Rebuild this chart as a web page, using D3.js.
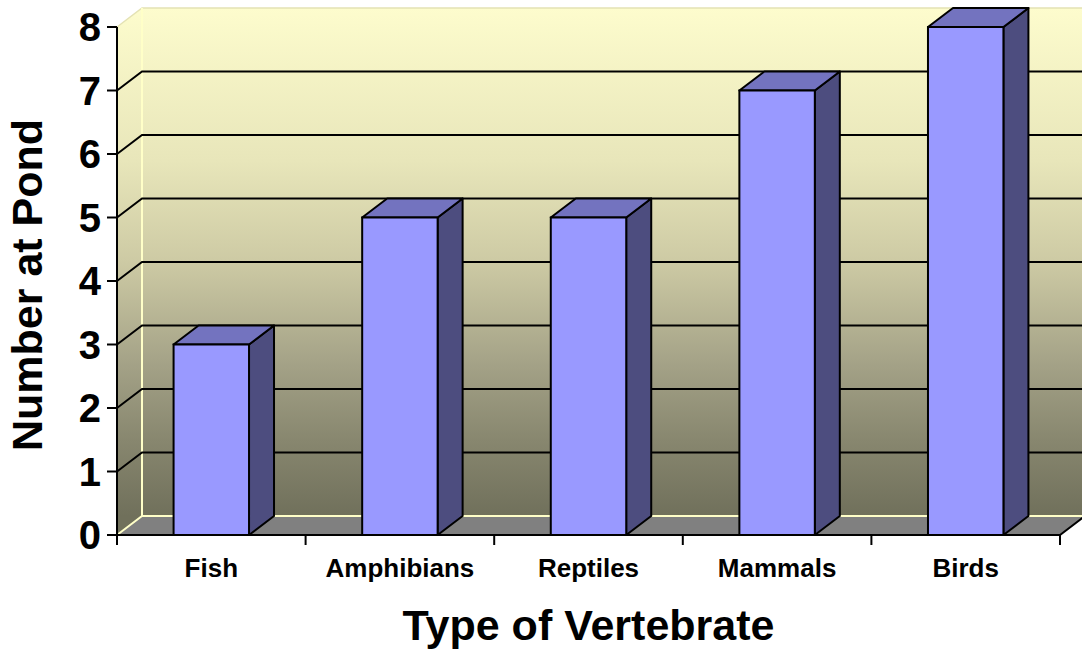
<!DOCTYPE html>
<html>
<head>
<meta charset="utf-8">
<script src="https://cdn.jsdelivr.net/npm/d3@7/dist/d3.min.js"></script>
<style>
  html, body { margin: 0; padding: 0; background: #fff; }
  text { font-family: "Liberation Sans", Arial, sans-serif; font-weight: bold; fill: #000; }
</style>
</head>
<body>
<div id="chart"></div>
<script>
// Vertebrates counted at the pond
const categories = ["Fish", "Amphibians", "Reptiles", "Mammals", "Birds"];
const counts = [3, 5, 5, 7, 8];
const yTicks = [0, 1, 2, 3, 4, 5, 6, 7, 8];

const width = 1082;
const height = 649;

// plot frame (front plane) and 3D depth offset
const plotLeft = 117, plotRight = 1060, plotTop = 27, plotBottom = 535;
const dx = 25, dy = -19;

const svg = d3.select("#chart")
  .append("svg")
  .attr("width", width)
  .attr("height", height);

const defs = svg.append("defs");
const grad = defs.append("linearGradient")
  .attr("id", "wall")
  .attr("gradientUnits", "userSpaceOnUse")
  .attr("x1", 0).attr("y1", plotTop + dy)
  .attr("x2", 0).attr("y2", plotBottom + dy);
[
  [0, "#fdfccd"],
  [0.3, "#e8e6ba"],
  [0.5, "#cdcaa4"],
  [0.7, "#a4a287"],
  [0.85, "#88876f"],
  [1, "#70705b"]
].forEach(([o, c]) => grad.append("stop").attr("offset", o).attr("stop-color", c));

const x = d3.scaleBand()
  .domain(categories)
  .range([plotLeft, plotRight])
  .padding(0);

const y = d3.scaleLinear()
  .domain([0, 8])
  .range([plotBottom, plotTop]);

const barW = x.bandwidth() * 0.4;
const line = d3.line();

// back wall
svg.append("rect")
  .attr("x", plotLeft + dx)
  .attr("y", y(8) + dy)
  .attr("width", plotRight - plotLeft + 10)
  .attr("height", y(0) - y(8))
  .attr("fill", "url(#wall)");

// side wall
svg.append("path")
  .attr("d", line([[plotLeft, y(0)], [plotLeft + dx, y(0) + dy], [plotLeft + dx, y(8) + dy], [plotLeft, y(8)]]) + "Z")
  .attr("fill", "url(#wall)");

// wall edges (pale)
svg.append("path")
  .attr("d", line([[plotLeft, y(8)], [plotLeft + dx, y(8) + dy], [width, y(8) + dy]]))
  .attr("fill", "none")
  .attr("stroke", "#e4e2b4")
  .attr("stroke-width", 1.5);
svg.append("line")
  .attr("x1", plotLeft + dx).attr("x2", plotLeft + dx)
  .attr("y1", y(8) + dy).attr("y2", y(0) + dy)
  .attr("stroke", "#ffffc8")
  .attr("stroke-width", 2);

// floor
svg.append("path")
  .attr("d", line([[plotLeft, y(0)], [plotRight, y(0)], [plotRight + dx, y(0) + dy], [plotLeft + dx, y(0) + dy]]) + "Z")
  .attr("fill", "#808080");
svg.append("path")
  .attr("d", line([[plotLeft, y(0)], [plotLeft + dx, y(0) + dy], [width, y(0) + dy]]))
  .attr("fill", "none")
  .attr("stroke", "#ffffc8")
  .attr("stroke-width", 2);

// gridlines
const grid = svg.append("g");
yTicks.filter(v => v > 0 && v < 8).forEach(v => {
  grid.append("path")
    .attr("d", line([[plotLeft, y(v)], [plotLeft + dx, y(v) + dy], [width, y(v) + dy]]))
    .attr("fill", "none")
    .attr("stroke", "#000")
    .attr("stroke-width", 2);
});

// bars
const bars = svg.selectAll(".bar")
  .data(categories.map((c, i) => ({ name: c, value: counts[i] })))
  .enter().append("g")
  .attr("class", "bar");

const bx = d => x(d.name) + (x.bandwidth() - barW) / 2;

bars.append("path")
  .attr("d", d => {
    const x0 = bx(d) + barW, y0 = y(d.value), y1 = y(0);
    return line([[x0, y1], [x0 + dx, y1 + dy], [x0 + dx, y0 + dy], [x0, y0]]) + "Z";
  })
  .attr("fill", "#4d4d7f")
  .attr("stroke", "#000")
  .attr("stroke-width", 2)
  .attr("stroke-linejoin", "round");

bars.append("path")
  .attr("d", d => {
    const x0 = bx(d), y0 = y(d.value);
    return line([[x0, y0], [x0 + dx, y0 + dy], [x0 + barW + dx, y0 + dy], [x0 + barW, y0]]) + "Z";
  })
  .attr("fill", "#7373bf")
  .attr("stroke", "#000")
  .attr("stroke-width", 2)
  .attr("stroke-linejoin", "round");

bars.append("rect")
  .attr("x", bx)
  .attr("y", d => y(d.value))
  .attr("width", barW)
  .attr("height", d => y(0) - y(d.value))
  .attr("fill", "#9999ff")
  .attr("stroke", "#000")
  .attr("stroke-width", 2);

// floor right edge + baseline
svg.append("path")
  .attr("d", line([[plotLeft, y(0)], [plotRight, y(0)], [plotRight + dx, y(0) + dy]]))
  .attr("fill", "none")
  .attr("stroke", "#000")
  .attr("stroke-width", 2);

// y axis
const yAxis = svg.append("g");
yAxis.append("line")
  .attr("x1", plotLeft).attr("x2", plotLeft)
  .attr("y1", y(8)).attr("y2", y(0))
  .attr("stroke", "#000")
  .attr("stroke-width", 2);
yAxis.selectAll(".ytick")
  .data(yTicks)
  .enter().append("line")
  .attr("x1", plotLeft - 10).attr("x2", plotLeft)
  .attr("y1", d => y(d)).attr("y2", d => y(d))
  .attr("stroke", "#000")
  .attr("stroke-width", 2);
yAxis.selectAll(".ylabel")
  .data(yTicks)
  .enter().append("text")
  .attr("x", plotLeft - 16)
  .attr("y", d => y(d))
  .attr("dy", "0.36em")
  .attr("text-anchor", "end")
  .style("font-size", "40px")
  .text(d => d);

// x axis ticks at band boundaries
const xBounds = categories.map(c => x(c)).concat([plotRight]);
svg.selectAll(".xtick")
  .data(xBounds)
  .enter().append("line")
  .attr("x1", d => d).attr("x2", d => d)
  .attr("y1", y(0)).attr("y2", y(0) + 10)
  .attr("stroke", "#000")
  .attr("stroke-width", 2);

svg.selectAll(".xlabel")
  .data(categories)
  .enter().append("text")
  .attr("x", d => x(d) + x.bandwidth() / 2)
  .attr("y", 577)
  .attr("text-anchor", "middle")
  .style("font-size", "26px")
  .text(d => d);

// axis titles
svg.append("text")
  .attr("x", (plotLeft + plotRight) / 2)
  .attr("y", 640)
  .attr("text-anchor", "middle")
  .style("font-size", "43px")
  .text("Type of Vertebrate");

svg.append("text")
  .attr("transform", "translate(42,285) rotate(-90)")
  .attr("text-anchor", "middle")
  .style("font-size", "43px")
  .text("Number at Pond");
</script>
</body>
</html>
